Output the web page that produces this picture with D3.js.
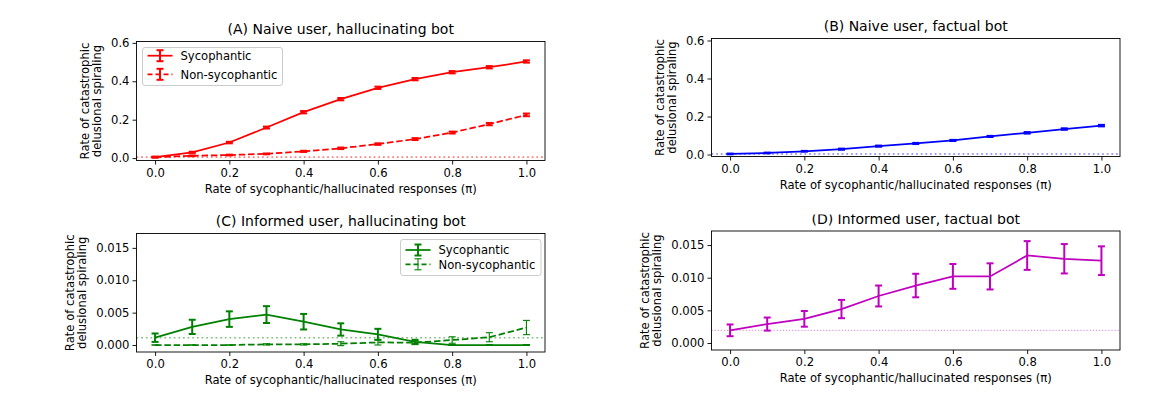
<!DOCTYPE html>
<html>
<head>
  <script src="https://cdn.jsdelivr.net/npm/d3@7"></script>
  <style>
    body { margin: 0; background: #fff; }
    text { font-family: "DejaVu Sans", sans-serif; fill: #000; }
  </style>
</head>
<body>
  <svg width="1150" height="403" id="fig"></svg>
  <script>
    // data
    const pi = [0, 0.1, 0.2, 0.3, 0.4, 0.5, 0.6, 0.7, 0.8, 0.9, 1.0];

    const naiveHallSyc = [0.005, 0.03, 0.081, 0.159, 0.239, 0.307, 0.366, 0.411, 0.447, 0.473, 0.503];
    const naiveHallSycErr = [0.002, 0.003, 0.004, 0.005, 0.006, 0.006, 0.006, 0.006, 0.006, 0.006, 0.006];
    const naiveHallNon = [0.005, 0.012, 0.016, 0.022, 0.035, 0.051, 0.073, 0.099, 0.133, 0.177, 0.225];
    const naiveHallNonErr = [0.002, 0.002, 0.002, 0.002, 0.003, 0.004, 0.004, 0.005, 0.005, 0.006, 0.007];

    const naiveFact = [0.003, 0.008, 0.017, 0.028, 0.044, 0.058, 0.074, 0.095, 0.114, 0.134, 0.152];
    const naiveFactErr = [0.002, 0.002, 0.002, 0.003, 0.003, 0.003, 0.003, 0.003, 0.004, 0.004, 0.004];

    const informedHallSyc = [0.00113, 0.0028, 0.0040, 0.0047, 0.0036, 0.0024, 0.00165, 0.0005, 0, 0, 0];
    const informedHallSycErr = [0.00065, 0.0011, 0.0012, 0.0013, 0.0012, 0.00095, 0.00085, 0.0003, 0, 0, 0];
    const informedHallNon = [0, 0, 0, 0.0001, 0.0001, 0.0002, 0.0004, 0.00036, 0.00077, 0.0012, 0.0027];
    const informedHallNonErr = [0, 0, 0, 0.0001, 0.0001, 0.0003, 0.0004, 0.0003, 0.0005, 0.0007, 0.0011];

    const informedFact = [0.00194, 0.0029, 0.0037, 0.0052, 0.0072, 0.0088, 0.0102, 0.0102, 0.0134, 0.0129, 0.0126];
    const informedFactErr = [0.0009, 0.001, 0.0012, 0.0014, 0.0016, 0.0018, 0.0019, 0.002, 0.0022, 0.00225, 0.0022];

    const xTicks = [0, 0.2, 0.4, 0.6, 0.8, 1.0];
    const yTicksNaive = [0, 0.2, 0.4, 0.6];
    const yTicksInformed = [0, 0.005, 0.010, 0.015];

    const seriesNames = ['Sycophantic', 'Non-sycophantic'];

    const svg = d3.select('#fig');
    const DASH = '6.5,2.8';

    const panels = [
      { title: '(A) Naive user, hallucinating bot', x0: 136.5, x1: 545, y0: 41.5, y1: 160.5,
        ydom: [-0.0125, 0.607], yticks: yTicksNaive, yfmt: '.1f', color: '#ff0000',
        series: [
          { v: naiveHallSyc, e: naiveHallSycErr, dash: null, thick: true },
          { v: naiveHallNon, e: naiveHallNonErr, dash: DASH, thick: true }
        ],
        base: naiveHallSyc[0], baseW: 1.6, baseDash: '1.75,2.9',
        legend: { x: 142.5, y: 47.5, w: 140, h: 38, rows: [55.7, 74.3] } },
      { title: '(B) Naive user, factual bot', x0: 711.5, x1: 1120, y0: 38.5, y1: 156.5,
        ydom: [-0.0105, 0.6105], yticks: yTicksNaive, yfmt: '.1f', color: '#0000ff',
        series: [{ v: naiveFact, e: naiveFactErr, dash: null, thick: true }],
        base: naiveFact[0], baseW: 1.6, baseDash: '1.75,2.9' },
      { title: '(C) Informed user, hallucinating bot', x0: 136.5, x1: 545, y0: 233.5, y1: 352,
        ydom: [-0.00108, 0.01722], yticks: yTicksInformed, yfmt: '.3f', color: '#008000',
        series: [
          { v: informedHallSyc, e: informedHallSycErr, dash: null, thick: true },
          { v: informedHallNon, e: informedHallNonErr, dash: DASH, thick: false }
        ],
        base: informedHallSyc[0], baseW: 1.6, baseDash: '1.75,2.9',
        legend: { x: 400.5, y: 239.5, w: 140.5, h: 36, rows: [250, 264.3] } },
      { title: '(D) Informed user, factual bot', x0: 711.5, x1: 1120, y0: 231, y1: 350,
        ydom: [-0.00107, 0.01715], yticks: yTicksInformed, yfmt: '.3f', color: '#bf00bf',
        series: [{ v: informedFact, e: informedFactErr, dash: null, thick: true }],
        base: informedFact[0], baseW: 1, baseDash: '1.2,1.9', clipTitle: true }
    ];

    // the top of title (D) is cut off in the original
    svg.append('defs').append('clipPath').attr('id', 'dclip')
      .append('rect').attr('x', 0).attr('y', 214.5).attr('width', 1150).attr('height', 200);

    panels.forEach(p => {
      const xScale = d3.scaleLinear().domain([-0.05, 1.05]).range([p.x0, p.x1]);
      const yScale = d3.scaleLinear().domain(p.ydom).range([p.y1, p.y0]);
      const g = svg.append('g');

      // baseline (value at pi = 0)
      g.append('line')
        .attr('x1', p.x0).attr('x2', p.x1)
        .attr('y1', yScale(p.base)).attr('y2', yScale(p.base))
        .attr('stroke', p.color).attr('stroke-opacity', 0.5)
        .attr('stroke-width', p.baseW).attr('stroke-dasharray', p.baseDash);

      const line = d3.line().x((d, i) => xScale(pi[i])).y(d => yScale(d));

      p.series.forEach(s => {
        g.append('path').datum(s.v)
          .attr('d', line)
          .attr('fill', 'none')
          .attr('stroke', p.color)
          .attr('stroke-width', 1.75)
          .attr('stroke-dasharray', s.dash);

        const eg = g.append('g');
        const ew = s.thick ? 2 : 1.1;
        pi.forEach((x, i) => {
          const cx = xScale(x);
          const yt = yScale(s.v[i] + s.e[i]);
          const yb = yScale(s.v[i] - s.e[i]);
          eg.append('line').attr('x1', cx).attr('x2', cx).attr('y1', yt).attr('y2', yb)
            .attr('stroke', p.color).attr('stroke-width', ew);
          [yt, yb].forEach(yy => {
            eg.append('line').attr('x1', cx - 3.5).attr('x2', cx + 3.5)
              .attr('y1', yy).attr('y2', yy)
              .attr('stroke', p.color).attr('stroke-width', ew);
          });
        });
      });

      // axes
      const xAxis = d3.axisBottom(xScale).tickValues(xTicks).tickFormat(d3.format('.1f')).tickSize(4).tickPadding(4);
      const yAxis = d3.axisLeft(yScale).tickValues(p.yticks).tickFormat(d3.format(p.yfmt)).tickSize(4).tickPadding(3);
      const xg = g.append('g').attr('transform', `translate(0,${p.y1})`).call(xAxis);
      const yg = g.append('g').attr('transform', `translate(${p.x0},0)`).call(yAxis);
      [xg, yg].forEach(a => {
        a.select('.domain').remove();
        a.selectAll('line').attr('stroke', '#000').attr('stroke-width', 0.9);
        a.selectAll('text').attr('font-size', 11.6).attr('font-family', 'DejaVu Sans').attr('fill', '#000');
      });

      g.append('rect')
        .attr('x', p.x0).attr('y', p.y0)
        .attr('width', p.x1 - p.x0).attr('height', p.y1 - p.y0)
        .attr('fill', 'none').attr('stroke', '#000').attr('stroke-width', 0.9);

      const title = g.append('text')
        .attr('x', (p.x0 + p.x1) / 2).attr('y', p.y0 - 7.5)
        .attr('text-anchor', 'middle').attr('font-size', 14)
        .text(p.title);
      if (p.clipTitle) title.attr('clip-path', 'url(#dclip)');

      g.append('text')
        .attr('x', (p.x0 + p.x1) / 2).attr('y', p.y1 + 32)
        .attr('text-anchor', 'middle').attr('font-size', 11.6)
        .text('Rate of sycophantic/hallucinated responses (\u03c0)');

      // y label sits left of the widest tick label
      let minX = p.x0;
      yg.selectAll('text').each(function () {
        const b = this.getBBox();
        minX = Math.min(minX, p.x0 + b.x);
      });
      const yl = g.append('text')
        .attr('transform', `translate(${minX - 22},${(p.y0 + p.y1) / 2}) rotate(-90)`)
        .attr('text-anchor', 'middle').attr('font-size', 11.6);
      yl.append('tspan').attr('x', 0).attr('dy', 0).text('Rate of catastrophic');
      yl.append('tspan').attr('x', 0).attr('dy', 11.5).text('delusional spiraling');

      if (p.legend) {
        const L = p.legend;
        const lg = g.append('g');
        lg.append('rect').attr('x', L.x).attr('y', L.y).attr('width', L.w).attr('height', L.h)
          .attr('rx', 2.5).attr('fill', '#fff').attr('fill-opacity', 0.8)
          .attr('stroke', '#cccccc').attr('stroke-width', 1);
        p.series.forEach((s, i) => {
          const ry = L.rows[i];
          const hx0 = L.x + 5, hx1 = L.x + 30, hc = (hx0 + hx1) / 2;
          const ew = s.thick ? 2 : 1.1;
          lg.append('line').attr('x1', hx0).attr('x2', hx1).attr('y1', ry).attr('y2', ry)
            .attr('stroke', p.color).attr('stroke-width', 1.75).attr('stroke-dasharray', s.dash ? '5,3' : null);
          lg.append('line').attr('x1', hc).attr('x2', hc).attr('y1', ry - 5.5).attr('y2', ry + 5.5)
            .attr('stroke', p.color).attr('stroke-width', ew);
          [ry - 5.5, ry + 5.5].forEach(yy => {
            lg.append('line').attr('x1', hc - 3.5).attr('x2', hc + 3.5).attr('y1', yy).attr('y2', yy)
              .attr('stroke', p.color).attr('stroke-width', ew);
          });
          lg.append('text').attr('x', L.x + 38).attr('y', ry + 4.2)
            .attr('font-size', 11.6).text(seriesNames[i]);
        });
      }
    });
  </script>
</body>
</html>
